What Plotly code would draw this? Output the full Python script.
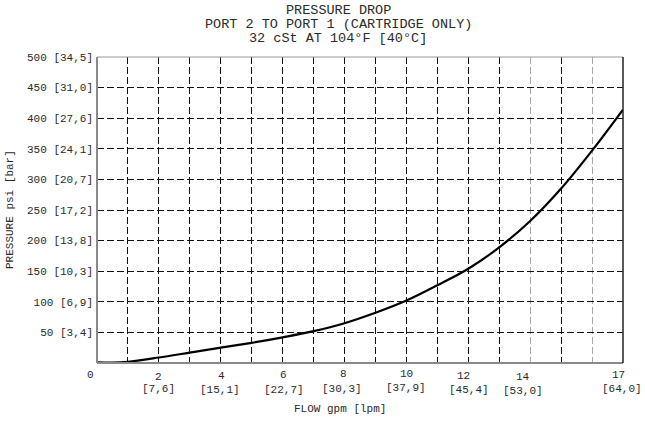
import plotly.graph_objects as go

# ---- data ----
flow_gpm = [0, 0.5, 1, 2, 3, 4, 5, 6, 7, 8, 9, 10, 11, 12, 13, 14, 15, 16, 17]
pressure_psi = [1, 0.5, 2, 9, 17, 25, 33, 42, 52, 65, 82, 102, 127, 154, 189, 232, 285, 347, 414]

x_tick_vals = [0, 2, 4, 6, 8, 10, 12, 14, 17]
x_tick_lpm = ["", "[7,6]", "[15,1]", "[22,7]", "[30,3]", "[37,9]", "[45,4]", "[53,0]", "[64,0]"]
y_tick_vals = [50, 100, 150, 200, 250, 300, 350, 400, 450, 500]
y_tick_bar = ["[3,4]", "[6,9]", "[10,3]", "[13,8]", "[17,2]", "[20,7]", "[24,1]", "[27,6]", "[31,0]", "[34,5]"]
grid_dark = [1, 2, 3, 4, 5, 6, 7, 8, 9, 10, 11, 12, 13, 15]
grid_light = [14, 16]

title_lines = ["PRESSURE DROP", "PORT 2 TO PORT 1 (CARTRIDGE ONLY)", "32 cSt AT 104°F [40°C]"]

# ---- style ----
FONT = "Liberation Mono, DejaVu Sans Mono, monospace"
TXT = "#2a2a2a"
num_dx = [-7, 0, 1, 1, -1, 0, -5, -7, -5]
num_dy = [-12, -14, -13, -12, -11, -11, -13, -14, -12]
br_dx = [0, 0, -1, 1, -3, 0, 1, -7, -1]
br_dy = [-26, -26, -27, -27, -26, -25, -27, -28, -26]

fig = go.Figure()
fig.add_trace(go.Scatter(
    x=flow_gpm, y=pressure_psi, mode="lines",
    line=dict(color="black", width=2.2, shape="spline", smoothing=1.0),
    hoverinfo="skip", showlegend=False,
))

fig.update_layout(
    width=645, height=421,
    margin=dict(l=97, r=22, t=57, b=58),
    paper_bgcolor="white", plot_bgcolor="white",
    showlegend=False,
    font=dict(family=FONT, size=11, color=TXT),
)

fig.update_xaxes(
    range=[0, 17], tickvals=grid_dark, showticklabels=False, ticks="",
    showgrid=True, gridcolor="#111", gridwidth=1, griddash="7px,3px",
    minor=dict(tickvals=grid_light, showgrid=True, gridcolor="#a8a8a8",
               gridwidth=1, griddash="7px,3px", ticks=""),
    zeroline=False, showline=False, fixedrange=True,
)
fig.update_yaxes(
    range=[0, 500], tickvals=y_tick_vals,
    ticktext=[f"{v} {b}" for v, b in zip(y_tick_vals, y_tick_bar)],
    ticks="", ticklabelstandoff=3,
    tickfont=dict(family=FONT, size=11, color=TXT),
    showgrid=True, gridcolor="#111", gridwidth=1, griddash="7px,3px",
    zeroline=False, showline=False, fixedrange=True,
)

# frame
fig.add_shape(type="line", xref="paper", yref="paper", x0=0, x1=0, y0=0, y1=1,
              line=dict(color="#8a8a8a", width=2))
fig.add_shape(type="line", xref="paper", yref="paper", x0=0, x1=1, y0=0, y1=0,
              line=dict(color="#8a8a8a", width=2))
fig.add_shape(type="line", xref="paper", yref="paper", x0=0, x1=1, y0=1, y1=1,
              line=dict(color="#9a9a9a", width=1))
fig.add_shape(type="line", xref="paper", yref="paper", x0=1, x1=1, y0=0, y1=1,
              line=dict(color="#222", width=1.5))

# x tick labels
for i, v in enumerate(x_tick_vals):
    fig.add_annotation(x=v, xref="x", y=0, yref="paper", text=str(v), showarrow=False,
                       xanchor="center", yanchor="middle", xshift=num_dx[i], yshift=num_dy[i],
                       font=dict(family=FONT, size=11, color=TXT))
    if x_tick_lpm[i]:
        fig.add_annotation(x=v, xref="x", y=0, yref="paper", text=x_tick_lpm[i], showarrow=False,
                           xanchor="center", yanchor="middle", xshift=br_dx[i], yshift=br_dy[i],
                           font=dict(family=FONT, size=11, color=TXT))

# axis titles
fig.add_annotation(x=0.5, xref="paper", y=0, yref="paper", text="FLOW gpm [lpm]",
                   showarrow=False, xanchor="center", yanchor="middle", xshift=-20, yshift=-46,
                   font=dict(family=FONT, size=11, color=TXT))
fig.add_annotation(x=0, xref="paper", y=0.5, yref="paper", text="PRESSURE psi [bar]",
                   showarrow=False, textangle=-90, xanchor="center", yanchor="middle",
                   xshift=-87, font=dict(family=FONT, size=11, color=TXT))

# title lines
title_y = [10.5, 24.3, 38.1]
for line, ty in zip(title_lines, title_y):
    fig.add_annotation(x=0.5, xref="paper", y=1, yref="paper", text=line, showarrow=False,
                       xanchor="center", yanchor="middle", xshift=-22, yshift=57 - ty,
                       height=13, font=dict(family=FONT, size=13.5, color=TXT))

fig.write_html("out.html", config={"displayModeBar": False},
               post_script="document.body.style.margin='0';")
